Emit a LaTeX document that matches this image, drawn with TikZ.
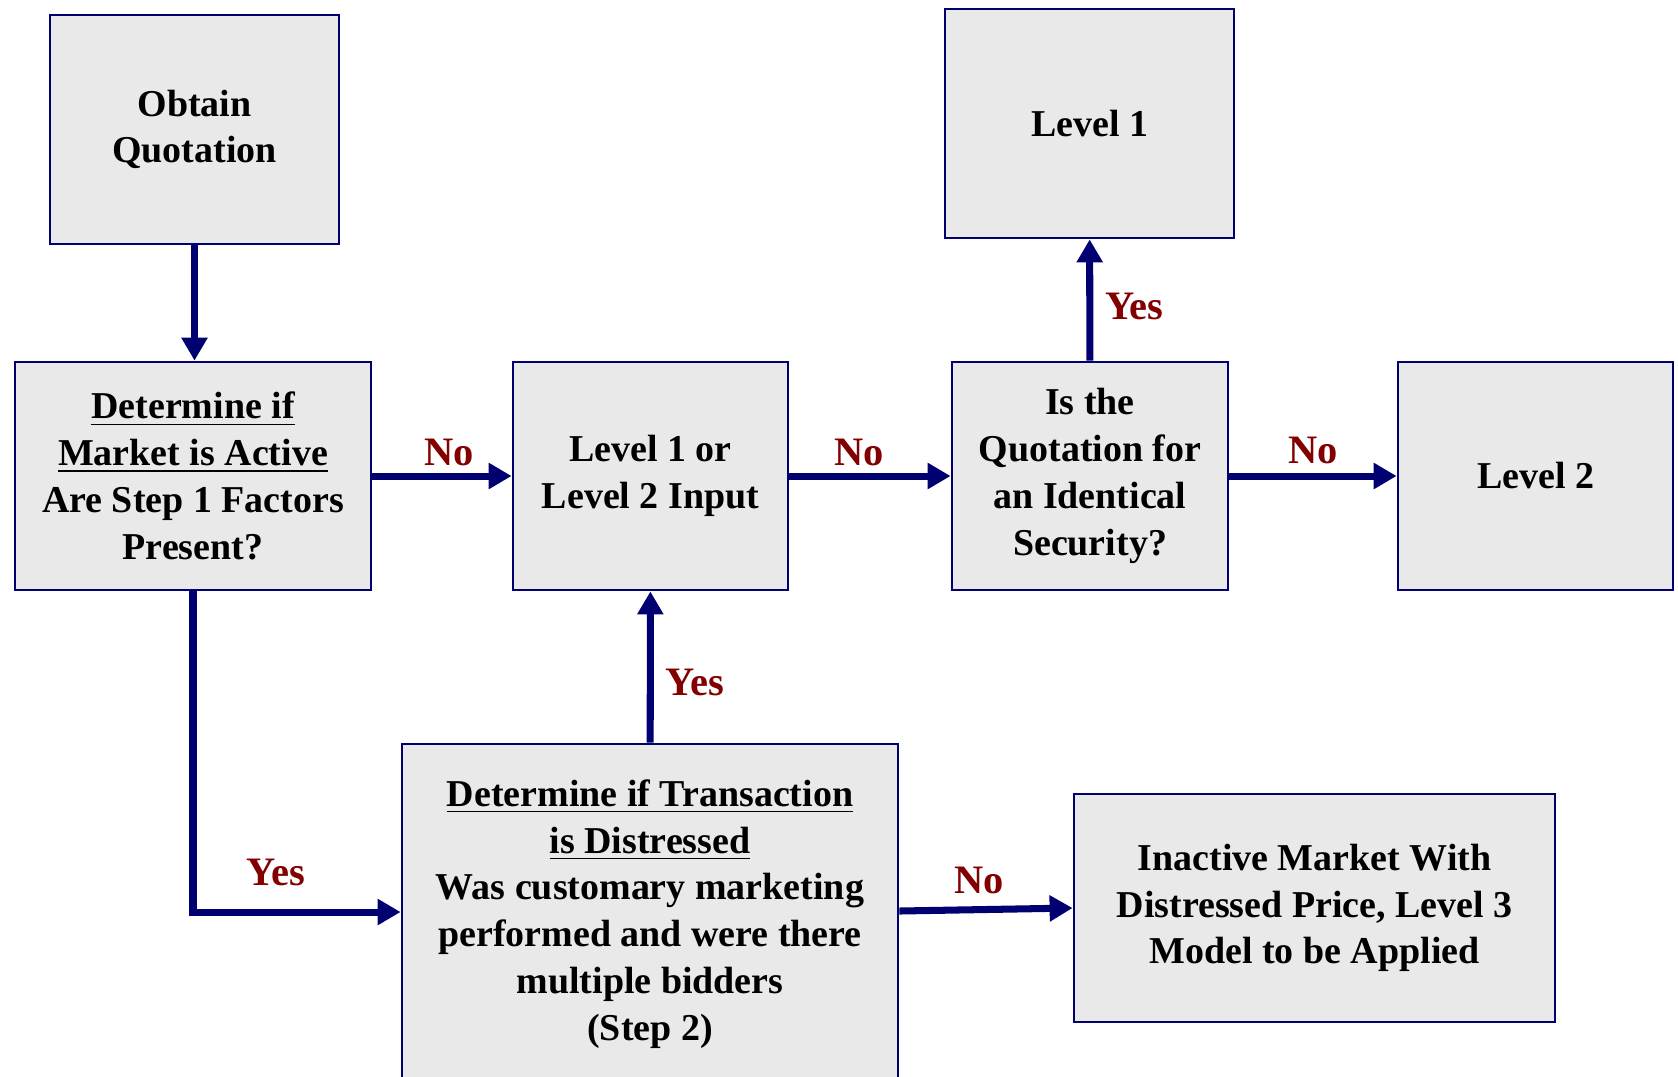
\documentclass[tikz,border=0pt]{standalone}
\usepackage{fontspec}
\setmainfont{Liberation Serif}
\usepackage{xcolor}
\usetikzlibrary{positioning, arrows.meta}
\definecolor{FVNavy}{RGB}{0,0,112}
\definecolor{FVRed}{RGB}{130,0,0}
\definecolor{FVGrey}{RGB}{233,233,233}

\begin{document}
\begin{tikzpicture}[
          box/.style={rectangle, draw=FVNavy, line width=0.8pt, fill=FVGrey,
                      font=\fontsize{10.8}{13.3}\selectfont\bfseries,
                      align=center, inner sep=2pt},
          arr/.style={-{Triangle[length=0.23cm, width=0.25cm]},
                      line width=2pt, FVNavy},
          lbl/.style={font=\fontsize{11.5}{13}\selectfont\bfseries, text=FVRed}
        ]
        \path[use as bounding box, clip] (0,0) rectangle (16.78,-10.76);

        \node[box, minimum width=2.89cm, minimum height=2.29cm]
              (obtain) at (1.945,-1.295) {Obtain\\Quotation};
        \node[box, minimum width=3.56cm, minimum height=2.28cm]
              (mkt) at (1.93,-4.76)
              {\underline{Determine if}\\\underline{Market is Active}\\
               Are Step 1 Factors\\Present?};
        \node[box, minimum width=2.75cm, minimum height=2.28cm]
              (lvl12) at (6.505,-4.76) {Level 1 or\\Level 2 Input};
        \node[box, minimum width=2.76cm, minimum height=2.28cm]
              (ident) at (10.90,-4.76)
              {Is the\\Quotation for\\an Identical\\Security?};
        \node[box, minimum width=2.75cm, minimum height=2.28cm]
              (lvl2) at (15.355,-4.76) {Level 2};
        \node[box, minimum width=2.89cm, minimum height=2.29cm]
              (lvl1) at (10.895,-1.235) {Level 1};

        % Step 2
        \node[box, minimum width=4.96cm, minimum height=3.40cm]
              (distr) at (6.50,-9.14)
              {\underline{Determine if Transaction}\\\underline{is Distressed}\\
               Was customary marketing\\performed and were there\\
               multiple bidders\\(Step 2)};
        \node[box, minimum width=4.81cm, minimum height=2.28cm]
              (inact) at (13.145,-9.08)
              {Inactive Market With\\Distressed Price, Level 3\\
               Model to be Applied};

        \draw[arr] (obtain.south) -- (obtain.south |- mkt.north);
        \draw[arr] (mkt) -- node[lbl, above, xshift=2pt, yshift=-1.5pt] {No} (lvl12);
        \draw[arr] (lvl12) -- node[lbl, above, xshift=-3pt, yshift=-1.5pt] {No} (ident);
        \draw[arr] (ident) -- node[lbl, above, yshift=-1pt] {No} (lvl2);
        \draw[arr] (ident) -- node[lbl, right, pos=0.45] {Yes} (lvl1);
        \draw[arr] (distr) -- node[lbl, right, pos=0.4] {Yes} (lvl12);
        \draw[arr] (mkt.south) |- node[lbl, above, pos=0.7, yshift=3pt] {Yes}
              (distr.west |- 0,-9.12);
        \draw[arr] (distr.east |- 0,-9.11) -- node[lbl, above, xshift=-2pt] {No}
              (inact.west);
      \end{tikzpicture}
\end{document}
